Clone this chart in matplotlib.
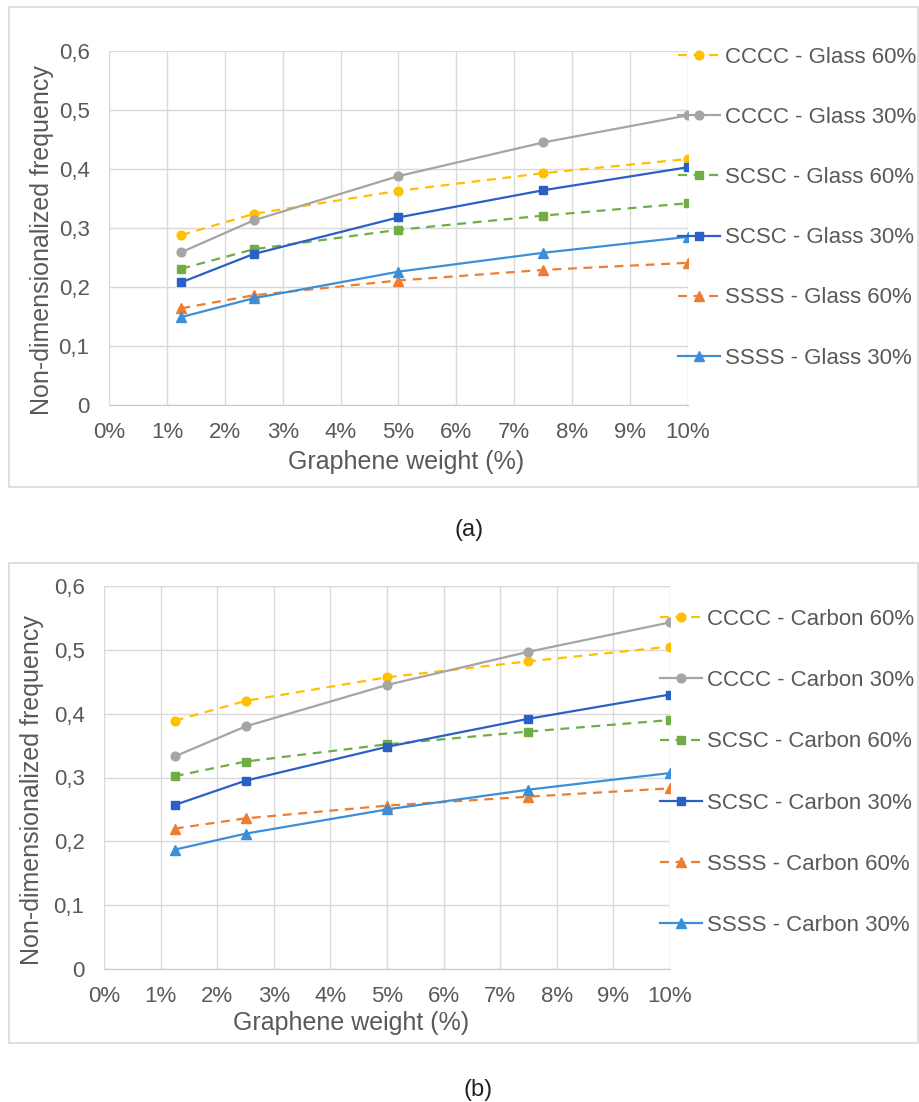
import matplotlib
matplotlib.use('Agg')
import matplotlib.pyplot as plt
from matplotlib.patches import Rectangle

plt.rcParams['font.family'] = ['Liberation Sans', 'DejaVu Sans']

# graphene weight (%)
weight = [1.25, 2.5, 5, 7.5, 10]

x_ticks = [0, 1, 2, 3, 4, 5, 6, 7, 8, 9, 10]
x_labels = ['0%', '1%', '2%', '3%', '4%', '5%', '6%', '7%', '8%', '9%', '10%']
y_ticks = [0, 0.1, 0.2, 0.3, 0.4, 0.5, 0.6]
y_labels = ['0', '0,1', '0,2', '0,3', '0,4', '0,5', '0,6']

# (a) glass
glass_names = ['CCCC - Glass 60%', 'CCCC - Glass 30%', 'SCSC - Glass 60%',
               'SCSC - Glass 30%', 'SSSS - Glass 60%', 'SSSS - Glass 30%']
glass_cccc_60 = [0.288, 0.324, 0.363, 0.393, 0.417]
glass_cccc_30 = [0.259, 0.313, 0.388, 0.445, 0.491]
glass_scsc_60 = [0.231, 0.264, 0.297, 0.321, 0.342]
glass_scsc_30 = [0.208, 0.256, 0.318, 0.364, 0.403]
glass_ssss_60 = [0.164, 0.186, 0.211, 0.229, 0.241]
glass_ssss_30 = [0.149, 0.181, 0.226, 0.258, 0.285]

# (b) carbon
carbon_names = ['CCCC - Carbon 60%', 'CCCC - Carbon 30%', 'SCSC - Carbon 60%',
                'SCSC - Carbon 30%', 'SSSS - Carbon 60%', 'SSSS - Carbon 30%']
carbon_cccc_60 = [0.389, 0.420, 0.457, 0.482, 0.505]
carbon_cccc_30 = [0.333, 0.380, 0.445, 0.497, 0.543]
carbon_scsc_60 = [0.302, 0.325, 0.352, 0.372, 0.390]
carbon_scsc_30 = [0.257, 0.295, 0.348, 0.392, 0.430]
carbon_ssss_60 = [0.220, 0.236, 0.256, 0.270, 0.283]
carbon_ssss_30 = [0.187, 0.212, 0.250, 0.281, 0.307]

# Excel-like styles, one per series
colors = ['#FFC000', '#A5A5A5', '#70AD47', '#2A5FC6', '#ED7D31', '#3B8FD9']
markers = ['o', 'o', 's', 's', '^', '^']
dashed = [True, False, True, False, True, False]

W, H = 920, 1102
fig = plt.figure(figsize=(W / 100, H / 100), dpi=100)


def fx(px):
    return px / W


def fy(py):
    return 1 - py / H


def panel(rect, names, values, legend_xy, spacing, xlabel_xy, ylabel_xy, frame, tag_xy, tag):
    l, t, r, b = rect
    # outer frame of the chart
    fl, ft, fr, fb = frame
    fig.patches.append(Rectangle((fx(fl), fy(fb)), fx(fr - fl), (fb - ft) / H,
                                 transform=fig.transFigure, fill=False,
                                 edgecolor='#D9D9D9', linewidth=1.2))
    ax = fig.add_axes([fx(l), fy(b), fx(r - l), (b - t) / H])
    for i in range(6):
        ls = (0, (4, 3)) if dashed[i] else '-'
        ax.plot(weight, values[i], color=colors[i], linestyle=ls, linewidth=1.6,
                marker=markers[i], markersize=7 if markers[i] == '^' else 6.3,
                label=names[i], zorder=3 + i)
    ax.set_xlim(0, 10)
    ax.set_ylim(0, 0.6)
    ax.set_xticks(x_ticks)
    ax.set_xticklabels(x_labels)
    ax.set_yticks(y_ticks)
    ax.set_yticklabels(y_labels)
    ax.tick_params(length=0, labelsize=16, labelcolor='#595959')
    ax.tick_params(axis='y', pad=14)
    ax.tick_params(axis='x', pad=12)
    ax.grid(True, color='#D9D9D9', linewidth=1)
    for s in ['top', 'right', 'left']:
        ax.spines[s].set_visible(False)
    ax.spines['bottom'].set_color('#C8C8C8')
    ax.set_axisbelow(True)
    fig.text(fx(xlabel_xy[0]), fy(xlabel_xy[1]), 'Graphene weight (%)',
             fontsize=18, color='#595959', ha='center', va='center')
    fig.text(fx(ylabel_xy[0]), fy(ylabel_xy[1]), 'Non-dimensionalized frequency',
             fontsize=18, color='#595959', ha='center', va='center', rotation=90)
    fig.text(fx(tag_xy[0]), fy(tag_xy[1]), tag, fontsize=17, color='#222222',
             ha='center', va='center')
    leg = ax.legend(loc='upper left', bbox_to_anchor=(fx(legend_xy[0]), fy(legend_xy[1])),
                    bbox_transform=fig.transFigure, frameon=False, fontsize=16,
                    labelcolor='#595959', handlelength=1.9, handletextpad=0.2,
                    labelspacing=spacing, borderpad=0, borderaxespad=0, numpoints=1)
    leg.set_zorder(20)
    return ax


panel((109, 51, 688, 405), glass_names,
      [glass_cccc_60, glass_cccc_30, glass_scsc_60, glass_scsc_30, glass_ssss_60, glass_ssss_30],
      (678, 47), 1.76, (406, 462), (42, 240), (9, 7, 918, 487), (469, 530), '(a)')

panel((104, 586, 670, 969), carbon_names,
      [carbon_cccc_60, carbon_cccc_30, carbon_scsc_60, carbon_scsc_30, carbon_ssss_60, carbon_ssss_30],
      (660, 609), 1.81, (351, 1023), (32, 790), (9, 563, 918, 1043), (478, 1090), '(b)')

fig.savefig('out.png', dpi=100)
